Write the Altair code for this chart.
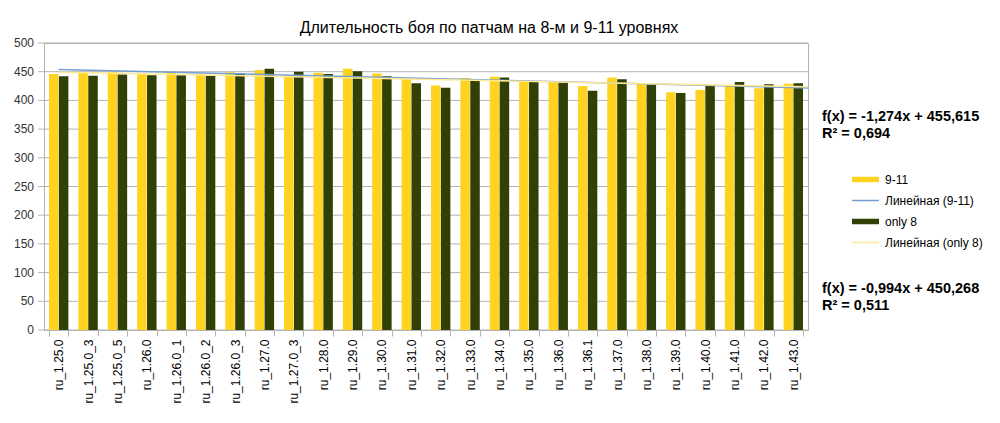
import pandas as pd
import altair as alt

# patches on the x axis
patches = [
    "ru_1.25.0", "ru_1.25.0_3", "ru_1.25.0_5", "ru_1.26.0", "ru_1.26.0_1",
    "ru_1.26.0_2", "ru_1.26.0_3", "ru_1.27.0", "ru_1.27.0_3", "ru_1.28.0",
    "ru_1.29.0", "ru_1.30.0", "ru_1.31.0", "ru_1.32.0", "ru_1.33.0",
    "ru_1.34.0", "ru_1.35.0", "ru_1.36.0", "ru_1.36.1", "ru_1.37.0",
    "ru_1.38.0", "ru_1.39.0", "ru_1.40.0", "ru_1.41.0", "ru_1.42.0",
    "ru_1.43.0",
]

# battle duration, levels 9-11
lvl_9_11 = [446, 449, 450, 446, 448, 446, 449, 453, 444, 448,
            455, 447, 439, 426, 439, 441, 434, 432, 425, 440,
            429, 414, 418, 425, 421, 429]

# battle duration, level 8 only
lvl_8 = [442, 443, 445, 444, 444, 443, 447, 455, 450, 446,
         451, 442, 430, 422, 435, 440, 433, 431, 417, 437,
         428, 413, 425, 432, 428, 430]

series_names = ["9-11", "only 8"]
bar_colors = ["#ffd320", "#314004"]
trend_colors = ["#729fcf", "#ffe994"]

legend_labels = ["9-11", "Линейная (9-11)", "only 8", "Линейная (only 8)"]
legend_colors = ["#ffd320", "#729fcf", "#314004", "#ffe994"]
bar_sym = "M-1,-0.2H1V0.2H-1Z"
line_sym = "M-1,-0.05H1V0.05H-1Z"
legend_shapes = [bar_sym, line_sym, bar_sym, line_sym]

y_ticks = [0, 50, 100, 150, 200, 250, 300, 350, 400, 450, 500]

title_text = "Длительность боя по патчам на 8-м и 9-11 уровнях"
equations = [
    ("f(x) = -1,274x + 455,615", 74),
    ("R² = 0,694", 91),
    ("f(x) = -0,994x + 450,268", 246),
    ("R² = 0,511", 263),
]

rows = []
for i, p in enumerate(patches):
    rows.append({"cat": p, "i": i, "series": "9-11", "value": lvl_9_11[i]})
    rows.append({"cat": p, "i": i, "series": "only 8", "value": lvl_8[i]})
df = pd.DataFrame(rows)
ticks_df = pd.DataFrame({"tick": y_ticks})

font = "Liberation Sans"
grey = "#b3b3b3"
y_scale = alt.Scale(domain=[0, 500], nice=False)
y_axis = alt.Axis(labels=False, ticks=False, grid=False, domainColor=grey)

# y grid, ticks and labels drawn from the tick list through the y scale
grid = alt.Chart(ticks_df).mark_rule(color=grey, strokeWidth=1).encode(
    y=alt.Y("tick:Q", title=None, scale=y_scale, axis=y_axis),
    x=alt.value(0), x2=alt.value(764),
)
tick_marks = alt.Chart(ticks_df).mark_rule(color=grey, strokeWidth=1).encode(
    y=alt.Y("tick:Q", title=None, scale=y_scale, axis=y_axis),
    x=alt.value(-6), x2=alt.value(0),
)
tick_labels = alt.Chart(ticks_df).mark_text(
    align="right", baseline="middle", fontSize=12, font=font, color="#333333"
).encode(
    y=alt.Y("tick:Q", title=None, scale=y_scale, axis=y_axis),
    x=alt.value(-10),
    text="tick:Q",
)

bars = alt.Chart(df).mark_bar().encode(
    x=alt.X("cat:N", sort=patches, title=None,
            scale=alt.Scale(paddingInner=0.34, paddingOuter=0.17),
            axis=alt.Axis(labelAngle=270, labelFontSize=12, labelFont=font,
                          labelColor="#000000", tickBand="extent",
                          tickColor=grey, domainColor=grey,
                          tickSize=6, labelPadding=3)),
    xOffset=alt.XOffset("series:N", sort=series_names,
                        scale=alt.Scale(paddingInner=0.04)),
    y=alt.Y("value:Q", title=None, scale=y_scale, axis=y_axis),
    fill=alt.Fill("series:N", scale=alt.Scale(domain=series_names, range=bar_colors),
                  legend=None),
)

trends = alt.Chart(df).transform_regression(
    "i", "value", groupby=["series"], extent=[0, 25.5]
).mark_line(strokeWidth=1.5).encode(
    x=alt.X("i:Q", axis=None,
            scale=alt.Scale(domain=[-0.5, 25.5], nice=False, zero=False)),
    y=alt.Y("value:Q", title=None, scale=y_scale, axis=y_axis),
    stroke=alt.Stroke("series:N", scale=alt.Scale(domain=series_names, range=trend_colors),
                      legend=None),
)

leg = alt.Legend(title=None, orient="none", legendX=808, legendY=127,
                 symbolSize=729, symbolOpacity=1, symbolStrokeWidth=0,
                 clipHeight=19, labelOffset=6, labelFontSize=12, labelFont=font,
                 labelColor="#000000", padding=0)

legend_df = pd.DataFrame({"entry": legend_labels})
legend_layer = alt.Chart(legend_df).mark_point(opacity=0, filled=True).encode(
    x=alt.value(0),
    y=alt.value(0),
    color=alt.Color("entry:N", sort=legend_labels,
                    scale=alt.Scale(domain=legend_labels, range=legend_colors),
                    legend=leg),
    shape=alt.Shape("entry:N", sort=legend_labels,
                    scale=alt.Scale(domain=legend_labels, range=legend_shapes),
                    legend=leg),
)

texts = []
for txt, ypos in equations:
    texts.append(
        alt.Chart(pd.DataFrame({"t": [txt]})).mark_text(
            align="left", baseline="middle", fontSize=14.5, fontWeight="bold",
            font=font, color="#000000"
        ).encode(x=alt.value(778), y=alt.value(ypos), text="t:N")
    )

title = alt.Chart(pd.DataFrame({"t": [title_text]})).mark_text(
    align="center", baseline="alphabetic", fontSize=16, font=font, color="#000000"
).encode(x=alt.value(445), y=alt.value(-10), text="t:N")

chart = alt.layer(
    grid, tick_marks, tick_labels, bars, trends, legend_layer, title, *texts
).resolve_scale(
    x="independent"
).properties(
    width=764,
    height=287,
    autosize="none",
    padding={"left": 36, "top": 35, "right": 182, "bottom": 80},
).configure_view(
    stroke=grey
)

chart.save("out.html", embed_options={"renderer": "svg", "actions": False})
